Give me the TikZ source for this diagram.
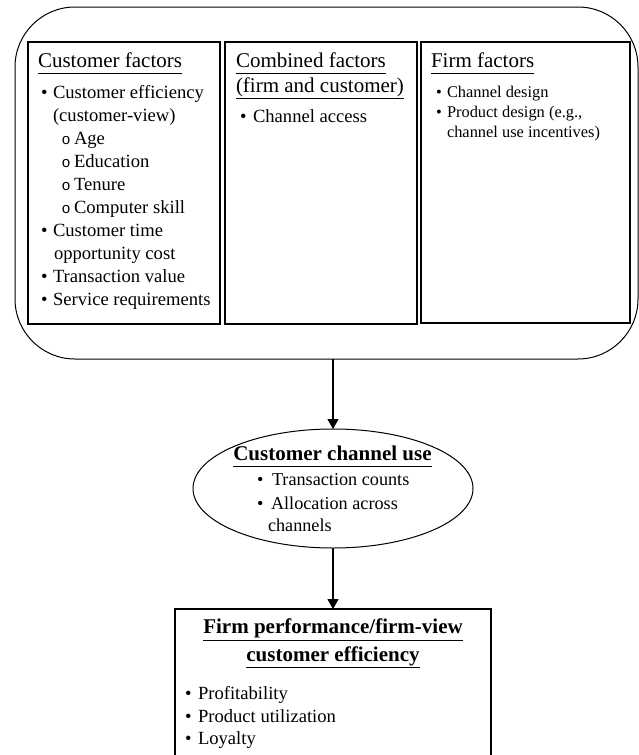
\documentclass[tikz,border=0pt]{standalone}
\usepackage{fontspec}
\setmainfont{Liberation Serif}
\newfontfamily\subbullfam{Liberation Mono}
\usetikzlibrary{arrows.meta,shapes.geometric}
\newcommand\headfont{\fontsize{21}{26}\selectfont}
\newcommand\bodyfont{\fontsize{18.6}{23}\selectfont}
\newcommand\smallbody{\fontsize{16.4}{20}\selectfont}
\newcommand\ellfont{\fontsize{18.2}{23}\selectfont}
\newcommand\subbullfont{\subbullfam\fontsize{15}{23}\selectfont}
\begin{document}
\begin{tikzpicture}[x=1pt,y=-1pt,
  txt/.style={inner sep=0,outer sep=0,anchor=base west,font=\bodyfont},
  stxt/.style={txt,font=\smallbody},
  etxt/.style={txt,font=\ellfont},
  sub/.style={txt,font=\subbullfont},
  head/.style={txt,font=\headfont},
  bhead/.style={inner sep=0,outer sep=0,anchor=base,font=\headfont\bfseries},
  uline/.style={line width=1pt},
  colbox/.style={draw,line width=1.1pt,inner sep=0,outer sep=0},
  arr/.style={line width=1.2pt,-{Triangle[length=10pt,width=11pt]}}]
\clip (0,0) rectangle (639,755);
\fill[white] (0,0) rectangle (639,755);
% outer rounded container
\node[draw,line width=1pt,rounded corners=60pt,inner sep=0,outer sep=0,
  minimum width=623,minimum height=352] (outer) at (326.5,183) {};
% column boxes
\node[colbox,minimum width=192,minimum height=282] (b1) at (124,183) {};
\node[colbox,minimum width=192,minimum height=282] (b2) at (321,183) {};
\node[colbox,minimum width=209,minimum height=281] (b3) at (525.5,182.5) {};
% column 1
\node[head] (h1) at (38,67) {Customer factors};
\draw[uline] ([yshift=-6pt]h1.base west) -- ([yshift=-6pt]h1.base east);
\node[txt] (c1b1) at (41,98) {•};
\node[txt] (c1t1) at (53,98) {Customer efficiency};
\node[txt] (c1t2) at (53,121) {(customer-view)};
\node[sub] (c1o1) at (61.5,144) {o};
\node[txt] (c1s1) at (74,144) {Age};
\node[sub] (c1o2) at (61.5,167) {o};
\node[txt] (c1s2) at (74,167) {Education};
\node[sub] (c1o3) at (61.5,190) {o};
\node[txt] (c1s3) at (74,190) {Tenure};
\node[sub] (c1o4) at (61.5,213) {o};
\node[txt] (c1s4) at (74,213) {Computer skill};
\node[txt] (c1b2) at (41,236) {•};
\node[txt] (c1t3) at (53,236) {Customer time};
\node[txt] (c1t4) at (54,259) {opportunity cost};
\node[txt] (c1b3) at (41,282) {•};
\node[txt] (c1t5) at (53,282) {Transaction value};
\node[txt] (c1b4) at (41,305) {•};
\node[txt] (c1t6) at (53,305) {Service requirements};
% column 2
\node[head] (h2a) at (236,67) {Combined factors};
\draw[uline] ([yshift=-6pt]h2a.base west) -- ([yshift=-6pt]h2a.base east);
\node[head] (h2b) at (236,92) {(firm and customer)};
\draw[uline] ([yshift=-6pt]h2b.base west) -- ([yshift=-6pt]h2b.base east);
\node[txt] (c2b1) at (240,122) {•};
\node[txt] (c2t1) at (253,122) {Channel access};
% column 3
\node[head] (h3) at (431,67) {Firm factors};
\draw[uline] ([yshift=-6pt]h3.base west) -- ([yshift=-6pt]h3.base east);
\node[stxt] (c3b1) at (436,97) {•};
\node[stxt] (c3t1) at (447,97) {Channel design};
\node[stxt] (c3b2) at (436,117) {•};
\node[stxt] (c3t2) at (447,117) {Product design (e.g.,};
\node[stxt] (c3t3) at (447,137) {channel use incentives)};
% ellipse
\node[draw,ellipse,line width=1pt,inner sep=0,outer sep=0,
  minimum width=280,minimum height=119] (ell) at (333,488.5) {};
\node[bhead] (eh) at (332.5,460) {Customer channel use};
\draw[uline] ([yshift=-6pt]eh.base west) -- ([yshift=-6pt]eh.base east);
\node[etxt] (eb1) at (257,485) {•};
\node[etxt] (et1) at (272,485) {Transaction counts};
\node[etxt] (eb2) at (257,509) {•};
\node[etxt] (et2) at (271,509) {Allocation across};
\node[etxt] (et3) at (268,531) {channels};
% performance box
\node[colbox,minimum width=316,minimum height=180] (perf) at (333,699) {};
\node[bhead] (ph1) at (333,633) {Firm performance/firm-view};
\draw[uline] ([yshift=-7pt]ph1.base west) -- ([yshift=-7pt]ph1.base east);
\node[bhead] (ph2) at (333,661) {customer efficiency};
\draw[uline] ([yshift=-6pt]ph2.base west) -- ([yshift=-6pt]ph2.base east);
\node[txt] (pb1) at (185,699) {•};
\node[txt] (pt1) at (198,699) {Profitability};
\node[txt] (pb2) at (185,722) {•};
\node[txt] (pt2) at (198,722) {Product utilization};
\node[txt] (pb3) at (185,744) {•};
\node[txt] (pt3) at (198,744) {Loyalty};
% connectors
\draw[arr] (ell.north |- outer.south) -- (ell.north);
\draw[arr] (ell.south) -- (perf.north);
\end{tikzpicture}
\end{document}
